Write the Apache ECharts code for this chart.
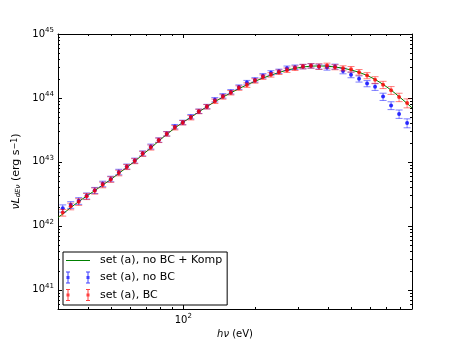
<!DOCTYPE html>
<html>
<head>
<meta charset="utf-8">
<script src="https://cdn.jsdelivr.net/npm/echarts@6/dist/echarts.min.js"></script>
<style>
html, body { margin: 0; padding: 0; background: #fff; }
#chart { width: 458px; height: 345px; }
</style>
</head>
<body>
<div id="chart"></div>
<script>
// photon energy of each data point (eV)
var energy = [31.4, 33.9, 36.6, 39.5, 42.7, 46.1, 49.8, 53.8, 58.1, 62.7,
    67.7, 73.2, 79.0, 85.3, 92.2, 99.5, 107.5, 116.1, 125.4, 135.4,
    146.3, 157.9, 170.6, 184.2, 199.0, 214.9, 232.1, 250.6, 270.7, 292.4,
    315.7, 341.0, 368.2, 397.7, 429.5, 463.9, 501.0, 541.1, 584.4, 631.1,
    681.6, 736.1, 795.0, 858.6];

// set (a), no BC
var lumNoBC = [1.88e42, 2.13e42, 2.46e42, 2.94e42, 3.59e42, 4.53e42, 5.42e42, 6.96e42, 8.48e42, 1.05e43,
    1.36e43, 1.74e43, 2.20e43, 2.76e43, 3.56e43, 4.15e43, 5.10e43, 6.20e43, 7.35e43, 9.38e43,
    1.08e44, 1.25e44, 1.48e44, 1.74e44, 1.92e44, 2.22e44, 2.47e44, 2.61e44, 2.92e44, 3.03e44,
    3.10e44, 3.18e44, 3.10e44, 2.99e44, 3.10e44, 2.65e44, 2.30e44, 1.99e44, 1.68e44, 1.49e44,
    1.05e44, 7.64e43, 5.63e43, 4.06e43];
var errNoBC = [0.13, 0.12, 0.12, 0.11, 0.11, 0.10, 0.10, 0.10, 0.09, 0.09,
    0.09, 0.09, 0.08, 0.08, 0.08, 0.08, 0.08, 0.08, 0.08, 0.08,
    0.08, 0.08, 0.08, 0.08, 0.08, 0.08, 0.08, 0.08, 0.08, 0.08,
    0.08, 0.08, 0.09, 0.09, 0.09, 0.10, 0.10, 0.11, 0.11, 0.12,
    0.13, 0.14, 0.15, 0.16];

// set (a), BC
var lumBC = [1.61e42, 2.02e42, 2.37e42, 2.89e42, 3.52e42, 4.37e42, 5.32e42, 6.72e42, 8.33e42, 1.03e43,
    1.34e43, 1.68e43, 2.18e43, 2.74e43, 3.43e43, 4.11e43, 4.92e43, 6.16e43, 7.29e43, 8.89e43,
    1.04e44, 1.21e44, 1.43e44, 1.59e44, 1.85e44, 2.12e44, 2.30e44, 2.53e44, 2.72e44, 2.92e44,
    3.10e44, 3.18e44, 3.10e44, 3.21e44, 3.03e44, 2.92e44, 2.82e44, 2.53e44, 2.24e44, 1.92e44,
    1.61e44, 1.32e44, 1.03e44, 8.33e43];
var errBC = [0.12, 0.12, 0.12, 0.11, 0.11, 0.10, 0.10, 0.10, 0.09, 0.09,
    0.09, 0.09, 0.08, 0.08, 0.08, 0.08, 0.08, 0.08, 0.08, 0.08,
    0.08, 0.08, 0.08, 0.08, 0.08, 0.08, 0.08, 0.08, 0.08, 0.08,
    0.08, 0.08, 0.10, 0.09, 0.09, 0.09, 0.10, 0.10, 0.11, 0.12,
    0.13, 0.14, 0.15, 0.16];

// set (a), no BC + Komp (model curve)
var modelEnergy = [30, 31.4, 33.9, 36.6, 39.5, 42.7, 46.1, 49.8, 53.8, 58.1, 62.7,
    67.7, 73.2, 79.0, 85.3, 92.2, 99.5, 107.5, 116.1, 125.4, 135.4,
    146.3, 157.9, 170.6, 184.2, 199.0, 214.9, 232.1, 250.6, 270.7, 292.4,
    315.7, 341.0, 368.2, 397.7, 429.5, 463.9, 501.0, 541.1, 584.4, 631.1,
    681.6, 736.1, 795.0, 858.6, 900];
var modelLum = [1.35e42, 1.53e42, 1.93e42, 2.39e42, 2.92e42, 3.55e42, 4.35e42, 5.30e42, 6.60e42, 8.20e42, 1.02e43,
    1.30e43, 1.65e43, 2.12e43, 2.70e43, 3.38e43, 4.15e43, 4.98e43, 6.05e43, 7.30e43, 8.75e43,
    1.03e44, 1.20e44, 1.40e44, 1.60e44, 1.82e44, 2.05e44, 2.27e44, 2.50e44, 2.72e44, 2.90e44,
    3.05e44, 3.14e44, 3.17e44, 3.14e44, 3.05e44, 2.92e44, 2.74e44, 2.52e44, 2.25e44, 1.95e44,
    1.63e44, 1.33e44, 1.05e44, 8.20e43, 7.00e43];

var xMinorTicks = [40, 50, 60, 70, 80, 90, 200, 300, 400, 500, 600, 700, 800];
var yMinorTicks = [6e40, 7e40, 8e40, 9e40,
    2e41, 3e41, 4e41, 5e41, 6e41, 7e41, 8e41, 9e41,
    2e42, 3e42, 4e42, 5e42, 6e42, 7e42, 8e42, 9e42,
    2e43, 3e43, 4e43, 5e43, 6e43, 7e43, 8e43, 9e43,
    2e44, 3e44, 4e44, 5e44, 6e44, 7e44, 8e44, 9e44];

var xMin = 30, xMax = 900, yMin = 5e40, yMax = 1e45;
var FONT = 'DejaVu Sans';

function errorRows(lum, err) {
    return energy.map(function (e, i) {
        return [e, lum[i], lum[i] * (1 - err[i]), lum[i] * (1 + err[i])];
    });
}

function renderErrorBar(params, api) {
    var x = api.value(0);
    var lo = api.coord([x, api.value(2)]);
    var hi = api.coord([x, api.value(3)]);
    var cap = 3.5;
    var style = { stroke: api.visual('color'), lineWidth: 1 };
    return {
        type: 'group',
        children: [
            { type: 'line', shape: { x1: lo[0], y1: lo[1], x2: hi[0], y2: hi[1] }, style: style },
            { type: 'line', shape: { x1: lo[0] - cap, y1: lo[1], x2: lo[0] + cap, y2: lo[1] }, style: style },
            { type: 'line', shape: { x1: hi[0] - cap, y1: hi[1], x2: hi[0] + cap, y2: hi[1] }, style: style }
        ]
    };
}

// minor ticks on all four sides, pointing inwards
function renderXMinor(params, api) {
    var cs = params.coordSys;
    var px = Math.round(api.coord([api.value(0), api.value(1)])[0]) + 0.5;
    var st = { stroke: '#000', lineWidth: 1 };
    return {
        type: 'group',
        children: [
            { type: 'line', shape: { x1: px, y1: cs.y + cs.height, x2: px, y2: cs.y + cs.height - 2 }, style: st },
            { type: 'line', shape: { x1: px, y1: cs.y, x2: px, y2: cs.y + 2 }, style: st }
        ]
    };
}
function renderYMinor(params, api) {
    var cs = params.coordSys;
    var py = Math.round(api.coord([api.value(0), api.value(1)])[1]) + 0.5;
    var st = { stroke: '#000', lineWidth: 1 };
    return {
        type: 'group',
        children: [
            { type: 'line', shape: { x1: cs.x, y1: py, x2: cs.x + 2, y2: py }, style: st },
            { type: 'line', shape: { x1: cs.x + cs.width, y1: py, x2: cs.x + cs.width - 2, y2: py }, style: st }
        ]
    };
}

function powerLabel(v) {
    var lg = Math.log10(v);
    var e = Math.round(lg);
    if (Math.abs(lg - e) > 1e-6) return '';
    return '{b|10}{e|' + e + '}';
}

var labelRich = {
    b: { fontFamily: FONT, fontSize: 10, color: '#000', lineHeight: 14 },
    e: { fontFamily: FONT, fontSize: 7, color: '#000', lineHeight: 8, verticalAlign: 'top' }
};

function logAxis(min, max, pos, showLabel, margin) {
    return {
        type: 'log', logBase: 10, min: min, max: max, position: pos,
        axisLine: { show: true, onZero: false, lineStyle: { color: '#000', width: 1 } },
        axisTick: { show: true, inside: true, length: 4, lineStyle: { color: '#000' } },
        minorTick: { show: false },
        splitLine: { show: false },
        axisLabel: {
            show: showLabel, formatter: powerLabel, rich: labelRich, margin: margin,
            showMinLabel: true, showMaxLabel: true
        }
    };
}

var lineIcon = 'path://M0,0H24V1H0Z';
var errIcon = 'path://M0,0H4V1H0Z M1.5,0H2.5V12H1.5Z M0,11H4V12H0Z M0.5,4.5H3.5V7.5H0.5Z ' +
    'M20,0H24V1H20Z M21.5,0H22.5V12H21.5Z M20,11H24V12H20Z M20.5,4.5H23.5V7.5H20.5Z';

var xBottom = logAxis(xMin, xMax, 'bottom', true, 4);
xBottom.name = '{i|hν} (eV)';
xBottom.nameLocation = 'middle';
xBottom.nameGap = 20;
xBottom.nameTextStyle = { fontFamily: FONT, fontSize: 10, color: '#000',
    rich: { i: { fontFamily: FONT, fontSize: 10, fontStyle: 'italic', color: '#000' } } };

var yLeft = logAxis(yMin, yMax, 'left', true, 4);
yLeft.name = '{i|νL}{s|dEν} (erg s{p|−1})';
yLeft.nameLocation = 'middle';
yLeft.nameGap = 24;
yLeft.nameTextStyle = { fontFamily: FONT, fontSize: 11, color: '#000',
    rich: {
        i: { fontFamily: FONT, fontSize: 11, fontStyle: 'italic', color: '#000' },
        s: { fontFamily: FONT, fontSize: 7, fontStyle: 'italic', color: '#000', verticalAlign: 'bottom', lineHeight: 7 },
        p: { fontFamily: FONT, fontSize: 8, color: '#000', verticalAlign: 'top', lineHeight: 8 }
    } };

var option = {
    animation: false,
    backgroundColor: '#fff',
    grid: { left: 58, right: 46, top: 34, bottom: 36, containLabel: false },
    xAxis: [xBottom, logAxis(xMin, xMax, 'top', false, 4)],
    yAxis: [yLeft, logAxis(yMin, yMax, 'right', false, 4)],
    legend: {
        orient: 'vertical', left: 63, top: 252,
        padding: [3, 5, 4, 3], itemGap: 5.5, itemWidth: 24, itemHeight: 12,
        borderColor: '#000', borderWidth: 1, backgroundColor: '#fff', borderRadius: 0,
        textStyle: { fontFamily: FONT, fontSize: 11, color: '#000', padding: [0, 0, 0, 5] },
        data: [
            { name: 'set (a), no BC + Komp', icon: lineIcon, itemStyle: { color: '#008000' } },
            { name: 'set (a), no BC', icon: errIcon, itemStyle: { color: '#4040ff' } },
            { name: 'set (a), BC', icon: errIcon, itemStyle: { color: '#ff4040' } }
        ]
    },
    series: [
        {
            name: 'set (a), no BC + Komp', type: 'line', z: 1,
            data: modelEnergy.map(function (e, i) { return [e, modelLum[i]]; }),
            symbol: 'none', color: '#008000', lineStyle: { color: '#008000', width: 1 }
        },
        {
            name: 'set (a), no BC', type: 'custom', z: 2, renderItem: renderErrorBar,
            itemStyle: { color: 'rgba(0,0,255,0.5)' }, data: errorRows(lumNoBC, errNoBC)
        },
        {
            name: 'set (a), no BC', type: 'scatter', z: 3, symbol: 'circle', symbolSize: 4,
            itemStyle: { color: '#0000ff' },
            data: energy.map(function (e, i) { return [e, lumNoBC[i]]; })
        },
        {
            name: 'set (a), BC', type: 'custom', z: 4, renderItem: renderErrorBar,
            itemStyle: { color: 'rgba(255,0,0,0.5)' }, data: errorRows(lumBC, errBC)
        },
        {
            name: 'set (a), BC', type: 'scatter', z: 5, symbol: 'circle', symbolSize: 4,
            itemStyle: { color: '#ff0000' },
            data: energy.map(function (e, i) { return [e, lumBC[i]]; })
        },
        {
            name: 'xminor', type: 'custom', silent: true, renderItem: renderXMinor,
            data: xMinorTicks.map(function (v) { return [v, 1e43]; })
        },
        {
            name: 'yminor', type: 'custom', silent: true, renderItem: renderYMinor,
            data: yMinorTicks.map(function (v) { return [100, v]; })
        }
    ]
};

var chart = echarts.init(document.getElementById('chart'), null, { renderer: 'canvas' });
chart.setOption(option);
</script>
</body>
</html>
